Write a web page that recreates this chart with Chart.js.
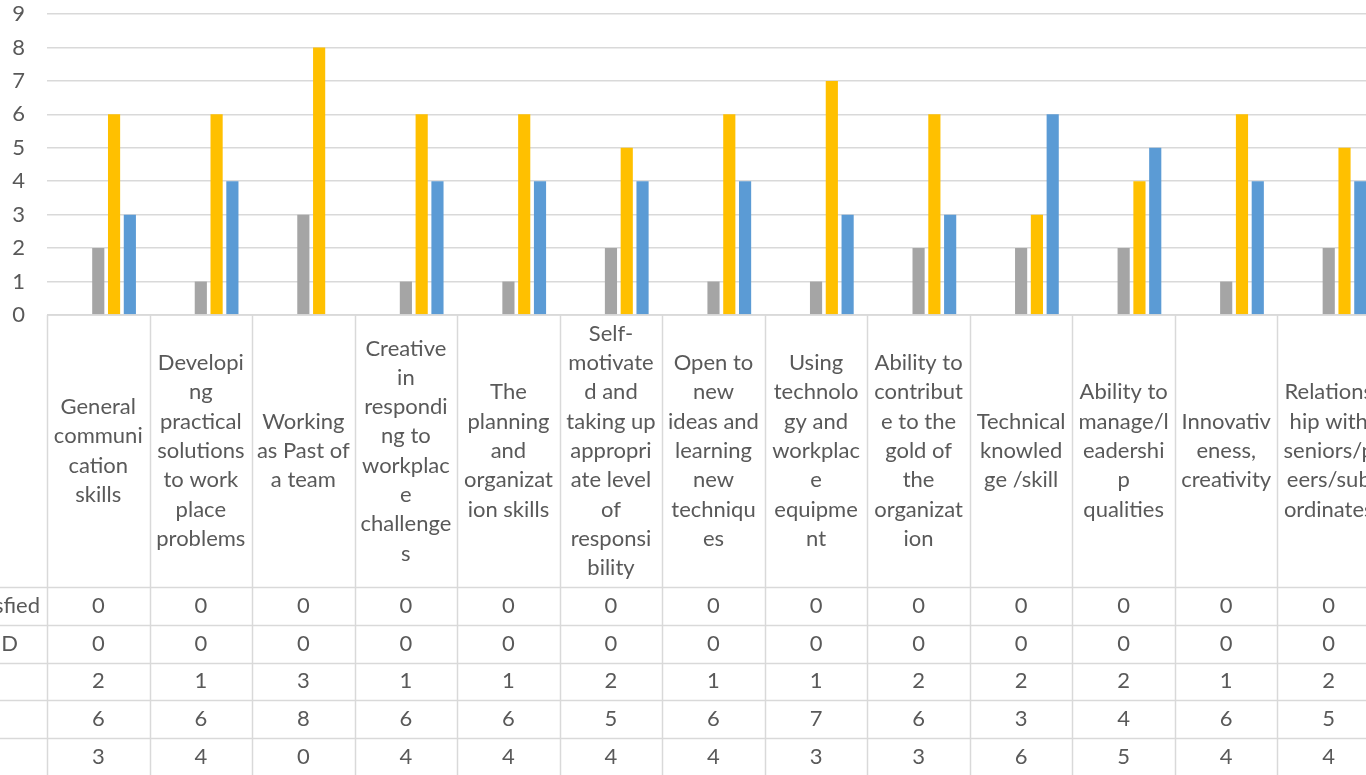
<!DOCTYPE html>
<html>
<head>
<meta charset="utf-8">
<script src="https://cdn.jsdelivr.net/npm/chart.js@4.4.1/dist/chart.umd.min.js"></script>
<style>
  html, body { margin: 0; padding: 0; overflow: hidden; background: #ffffff; }
  #wrap { width: 1380px; height: 775px; }
</style>
</head>
<body>
<div id="wrap"><canvas id="c" width="1380" height="775"></canvas></div>
<script>
// ---- data ----
const categoryLines = [
  ["General", "communi", "cation", "skills"],
  ["Developi", "ng", "practical", "solutions", "to work", "place", "problems"],
  ["Working", "as Past of", "a team"],
  ["Creative", "in", "respondi", "ng to", "workplac", "e", "challenge", "s"],
  ["The", "planning", "and", "organizat", "ion skills"],
  ["Self-", "motivate", "d and", "taking up", "appropri", "ate level", "of", "responsi", "bility"],
  ["Open to", "new", "ideas and", "learning", "new", "techniqu", "es"],
  ["Using", "technolo", "gy and", "workplac", "e", "equipme", "nt"],
  ["Ability to", "contribut", "e to the", "gold of", "the", "organizat", "ion"],
  ["Technical", "knowled", "ge /skill"],
  ["Ability to", "manage/l", "eadershi", "p", "qualities"],
  ["Innovativ", "eness,", "creativity"],
  ["Relations", "hip with", "seniors/p", "eers/sub", "ordinates"]
];
const categories = categoryLines.map(l => l.join(" "));

const seriesNames = ["Very Dissatisfied", "Neither S or D", "Fair", "Good", "Excellent"];
const veryDissatisfied = [0, 0, 0, 0, 0, 0, 0, 0, 0, 0, 0, 0, 0];
const neitherSnorD     = [0, 0, 0, 0, 0, 0, 0, 0, 0, 0, 0, 0, 0];
const fair             = [2, 1, 3, 1, 1, 2, 1, 1, 2, 2, 2, 1, 2];
const good             = [6, 6, 8, 6, 6, 5, 6, 7, 6, 3, 4, 6, 5];
const excellent        = [3, 4, 0, 4, 4, 4, 4, 3, 3, 6, 5, 4, 4];
const seriesValues = [veryDissatisfied, neitherSnorD, fair, good, excellent];
const seriesColors = ["#4472C4", "#ED7D31", "#A5A5A5", "#FFC000", "#5B9BD5"];
const yTicks = [0, 1, 2, 3, 4, 5, 6, 7, 8, 9];

const FONT = "Lato";
const TEXT = "#595959";
const LINE = "#D9D9D9";

const dataTablePlugin = {
  id: "dataTable",
  afterDraw(chart) {
    const ctx = chart.ctx;
    const x = chart.scales.x;
    const area = chart.chartArea;
    const n = categories.length;
    const cw = (area.right - area.left) / n;
    const top = area.bottom;
    const headerH = 272;
    const rowH = 37.75;
    const H = chart.height;
    ctx.save();
    ctx.strokeStyle = LINE;
    ctx.lineWidth = 1.5;
    ctx.beginPath();
    ctx.moveTo(area.left, top); ctx.lineTo(area.right, top);
    ctx.stroke();
    for (let i = 0; i <= n; i++) {
      const bx = Math.round(area.left + i * cw) + 0.5;
      ctx.beginPath();
      ctx.moveTo(bx, top); ctx.lineTo(bx, H + 2);
      ctx.stroke();
    }
    for (let r = 0; r < seriesValues.length; r++) {
      const ry = Math.round(top + headerH + r * rowH) + 0.5;
      ctx.beginPath();
      ctx.moveTo(0, ry); ctx.lineTo(area.right, ry);
      ctx.stroke();
    }
    ctx.fillStyle = TEXT;
    ctx.font = "22px " + FONT;
    ctx.textAlign = "center";
    ctx.textBaseline = "middle";
    const lh = 29.3;
    for (let i = 0; i < n; i++) {
      const cx = x.getPixelForValue(i);
      const lines = categoryLines[i];
      const cy = top + headerH / 2;
      const y0 = cy - (lines.length - 1) * lh / 2;
      lines.forEach((t, k) => ctx.fillText(t, cx, y0 + k * lh));
    }
    for (let r = 0; r < seriesValues.length; r++) {
      const cy = top + headerH + r * rowH + rowH / 2;
      for (let i = 0; i < n; i++) {
        ctx.fillText(String(seriesValues[r][i]), x.getPixelForValue(i), cy);
      }
    }
    ctx.textAlign = "left";
    const x0 = 40 - ctx.measureText(seriesNames[0]).width;
    for (let r = 0; r < seriesNames.length; r++) {
      const cy = top + headerH + r * rowH + rowH / 2;
      ctx.fillText(seriesNames[r], x0, cy);
    }
    ctx.restore();
  }
};

new Chart(document.getElementById("c"), {
  type: "bar",
  data: {
    labels: categories,
    datasets: seriesValues.map((v, i) => ({
      label: seriesNames[i],
      data: v,
      backgroundColor: seriesColors[i],
      borderWidth: 0,
      categoryPercentage: 0.77,
      barPercentage: 0.77
    }))
  },
  options: {
    responsive: false,
    animation: false,
    devicePixelRatio: 1,
    layout: { padding: { top: 14, right: 0, bottom: 460, left: 0 } },
    plugins: { legend: { display: false }, tooltip: { enabled: false } },
    scales: {
      x: { display: false },
      y: {
        min: 0, max: 9,
        afterFit(scale) { scale.width = 47; },
        afterBuildTicks(scale) { scale.ticks = yTicks.map(v => ({ value: v })); },
        border: { display: false },
        grid: { color: LINE, lineWidth: 1.5, drawTicks: true, tickLength: 22, tickColor: "rgba(0,0,0,0)" },
        ticks: { color: TEXT, font: { family: FONT, size: 22 }, padding: 0 }
      }
    }
  },
  plugins: [dataTablePlugin]
});
</script>
</body>
</html>
